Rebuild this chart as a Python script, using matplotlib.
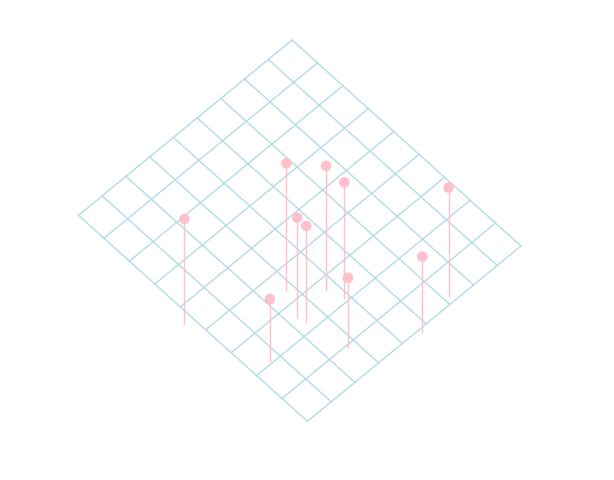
import numpy as np
import matplotlib.pyplot as plt

# grid size (cells per side) and the points: position on the floor grid + height
grid_n = 9
pt_a = [8.85, 5.78, 6.21, 6.10, 4.89, 4.67, 5.79, 7.86, 3.78, 2.32]
pt_b = [4.02, 5.17, 6.00, 6.25, 5.90, 6.41, 7.60, 6.46, 8.65, 8.32]
pt_z = [4.27, 5.39, 4.03, 3.80, 5.22, 4.77, 2.45, 2.10, 2.75, 4.40]
base_z = -1.0  # stems drop a bit below the grid plane

# isometric-ish projection into pixel space
origin = np.array([292.0, 40.0])
e1 = np.array([-23.72, 19.48])
e2 = np.array([25.44, 22.89])
z_unit = 20.0


def project(a, b, z=0.0):
    p = origin + np.multiply.outer(a, e1) + np.multiply.outer(b, e2)
    p = np.array(p, dtype=float)
    p[..., 1] -= np.asarray(z) * z_unit
    return p


fig = plt.figure(figsize=(6.14, 4.80), dpi=100)
ax = fig.add_axes([0, 0, 1, 1])
ax.set_xlim(0, 614)
ax.set_ylim(480, 0)
ax.axis('off')

grid_color = '#add8e6'
for i in range(grid_n + 1):
    p0 = project(i, 0)
    p1 = project(i, grid_n)
    ax.plot([p0[0], p1[0]], [p0[1], p1[1]], color=grid_color, lw=0.9, zorder=1)
    p0 = project(0, i)
    p1 = project(grid_n, i)
    ax.plot([p0[0], p1[0]], [p0[1], p1[1]], color=grid_color, lw=0.9, zorder=1)

pink = '#ffc0cb'
tops = project(np.array(pt_a), np.array(pt_b), np.array(pt_z))
bottoms = project(np.array(pt_a), np.array(pt_b), np.full(len(pt_a), base_z))
for t, b in zip(tops, bottoms):
    ax.plot([t[0], b[0]], [t[1], b[1]], color=pink, lw=1.0, zorder=2)

ax.scatter(tops[:, 0], tops[:, 1], s=58, color=pink, edgecolors='none', zorder=3)

fig.savefig('out.png', dpi=100)
